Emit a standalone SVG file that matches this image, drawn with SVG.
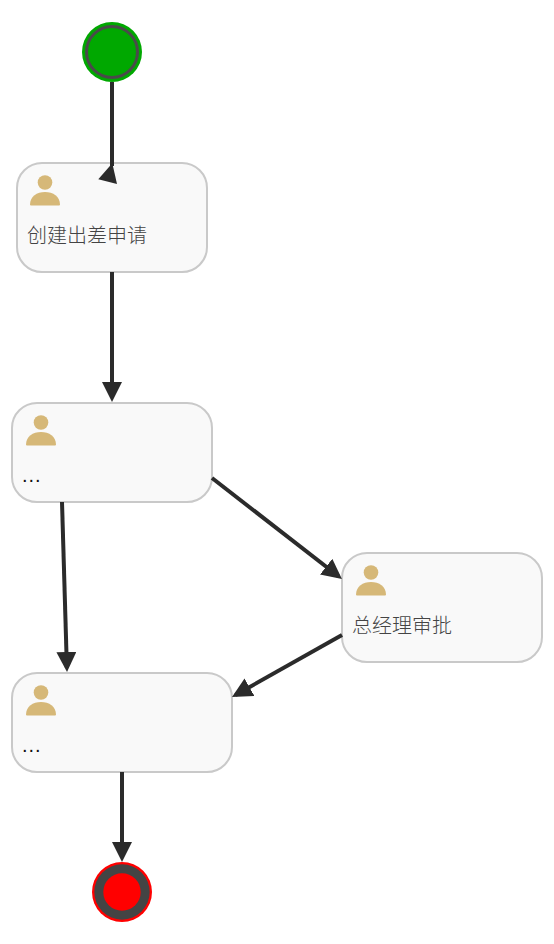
<svg xmlns="http://www.w3.org/2000/svg" width="554" height="944" viewBox="0 0 554 944">
<style>
.task{fill:#f9f9f9;stroke:#c9c9c9;stroke-width:2}
.head,.body{fill:#d6b878}
.label{font-family:"Noto Sans CJK SC","Noto Sans",sans-serif;font-size:20px;font-weight:300;fill:#444}
.dots{font-family:"Liberation Sans",sans-serif;font-size:20px;letter-spacing:1px;fill:#111}
.edge{fill:none;stroke:#2b2b2b;stroke-width:4}
.head-a{fill:#2b2b2b}
</style>
<defs>
<marker id="arrow" markerUnits="userSpaceOnUse" markerWidth="20" markerHeight="20" refX="16" refY="10" orient="auto"><path class="head-a" d="M0 0L20 10L0 20Z"/></marker>
<g id="user"><circle class="head" cx="0" cy="0" r="7.300"/><path class="body" d="M-15 22C-15 14-8 9.500 0 9.500C8 9.500 15 14 15 22Q15 23 14 23H-14Q-15 23-15 22Z"/></g>
</defs>
<rect width="554" height="944" fill="#fff"/>
<g id="start"><circle cx="112" cy="52" r="30" fill="#00a800"/><circle cx="112" cy="52" r="25.500" fill="#00a800" stroke="#4a4a4a" stroke-width="3"/></g>
<g id="task1"><rect class="task" x="17" y="163" width="190" height="109" rx="25"/><use href="#user" x="45" y="182.500"/><text class="label" x="27" y="243">创建出差申请</text></g>
<g id="task2"><rect class="task" x="12" y="403" width="200" height="99" rx="25"/><use href="#user" x="41" y="422.500"/><text class="dots" x="22" y="482">...</text></g>
<g id="task3"><rect class="task" x="342" y="553" width="200" height="109" rx="25"/><use href="#user" x="371" y="572.500"/><text class="label" x="352" y="633">总经理审批</text></g>
<g id="task4"><rect class="task" x="12" y="673" width="220" height="99" rx="25"/><use href="#user" x="41" y="692.500"/><text class="dots" x="22" y="752">...</text></g>
<g id="end"><circle cx="122" cy="892" r="30" fill="#f00"/><circle cx="122" cy="892" r="27.700" fill="#444"/><circle cx="122" cy="892" r="18.700" fill="#f00"/></g>
<g id="connectors">
<path class="edge" d="M112 82V166"/>
<polygon class="head-a" points="112.300,163.300 98.300,179.300 117,184"/>
<path class="edge" marker-end="url(#arrow)" d="M112 272V398"/>
<path class="edge" marker-end="url(#arrow)" d="M62 502L66.900 668"/>
<path class="edge" marker-end="url(#arrow)" d="M212 478L338.800 576.500"/>
<path class="edge" marker-end="url(#arrow)" d="M342 635L235.500 695"/>
<path class="edge" marker-end="url(#arrow)" d="M122 772V858"/>
</g>
</svg>
